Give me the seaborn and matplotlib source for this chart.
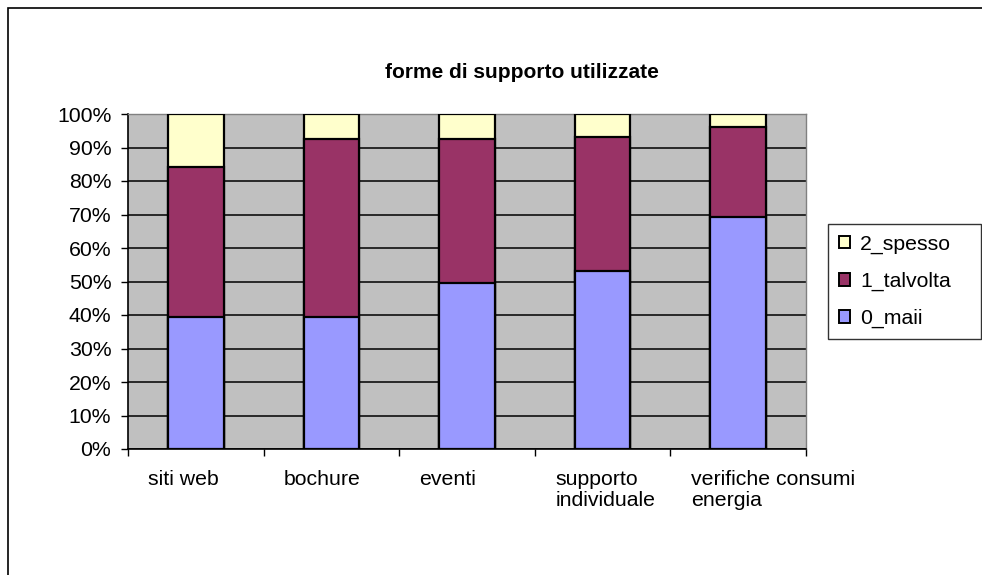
import numpy as np
import pandas as pd
import matplotlib
matplotlib.use("Agg")
import matplotlib.pyplot as plt
from matplotlib.patches import Patch, Rectangle
import seaborn as sns

categories = ["siti web", "bochure", "eventi", "supporto\nindividuale", "verifiche consumi\nenergia"]
maai = [39.5, 39.5, 49.6, 53.2, 69.3]
talvolta = [44.7, 53.0, 42.9, 40.0, 26.8]
spesso = [15.8, 7.5, 7.5, 6.8, 3.9]
series_names = ["0_maii", "1_talvolta", "2_spesso"]
series_colors = ["#9999FF", "#993366", "#FFFFCC"]
yticks = [0, 10, 20, 30, 40, 50, 60, 70, 80, 90, 100]
title = "forme di supporto utilizzate"

sns.set_theme(style="white")
plt.rcParams["font.family"] = ["Liberation Sans", "DejaVu Sans"]
plt.rcParams["text.color"] = "black"
plt.rcParams["xtick.color"] = "black"
plt.rcParams["ytick.color"] = "black"

FS = 15.3

W, H = 982, 575
fig = plt.figure(figsize=(W / 100, H / 100), dpi=100)
ax = fig.add_axes([128 / W, 1 - 449 / H, (806 - 128) / W, (449 - 114) / H])
ax.set_facecolor("#C0C0C0")

df = pd.DataFrame({"cat": categories, "maai": maai, "talvolta": talvolta, "spesso": spesso})
tot = df[["maai", "talvolta", "spesso"]].sum(axis=1)
for c in ["maai", "talvolta", "spesso"]:
    df[c] = df[c] / tot * 100
df["c0"] = df["maai"]
df["c1"] = df["maai"] + df["talvolta"]
df["c2"] = df["c1"] + df["spesso"]

for col, color in zip(["c2", "c1", "c0"], series_colors[::-1]):
    sns.barplot(data=df, x="cat", y=col, color=color, saturation=1, width=0.41,
                edgecolor="black", linewidth=1.6, ax=ax, zorder=3)

ax.set_xlim(-0.5, 4.5)
ax.set_ylim(0, 100)
ax.set_xlabel("")
ax.set_ylabel("")

ax.set_yticks(yticks)
ax.set_yticklabels([f"{v}%" for v in yticks], fontsize=FS, color="black")
ax.yaxis.grid(True, color="black", linewidth=1.1, zorder=1)
ax.set_axisbelow(True)
ax.tick_params(axis="y", direction="out", length=5, width=1, color="black", pad=7, left=True)

ax.set_xticks([i - 0.5 for i in range(len(categories) + 1)])
ax.set_xticklabels([""] * (len(categories) + 1))
ax.tick_params(axis="x", which="major", direction="out", length=5, width=1, color="black", bottom=True)
ax.set_xticks([i - 0.35 for i in range(len(categories))], minor=True)
ax.set_xticklabels(categories, minor=True, fontsize=FS, ha="left", va="top", linespacing=1.15)
ax.tick_params(axis="x", which="minor", length=0, pad=15)

for s in ["left", "bottom"]:
    ax.spines[s].set_color("black")
    ax.spines[s].set_linewidth(1.2)
for s in ["top", "right"]:
    ax.spines[s].set_color("#808080")
    ax.spines[s].set_linewidth(1.0)

fig.text(522 / W, 1 - 72 / H, title, ha="center", va="center", fontsize=15, fontweight="bold",
         color="black")

handles = [Patch(facecolor=c, edgecolor="black", linewidth=1.4, label=n)
           for n, c in zip(series_names[::-1], series_colors[::-1])]
leg = fig.legend(handles=handles, loc="upper left",
                 bbox_to_anchor=(828 / W, 1 - 224 / H, (981 - 828) / W, 0.0001),
                 mode="expand", frameon=True, fancybox=False, edgecolor="black",
                 fontsize=FS, handlelength=0.55, handleheight=0.55, handletextpad=0.45,
                 labelspacing=0.85, borderpad=0.5, borderaxespad=0)
leg.get_frame().set_linewidth(1.0)

fig.patches.append(Rectangle((8 / W, -0.05), 1.1, 1 - 8 / H + 0.05, transform=fig.transFigure,
                             fill=False, edgecolor="black", linewidth=1.2))

fig.savefig("out.png", dpi=100, facecolor="white")
